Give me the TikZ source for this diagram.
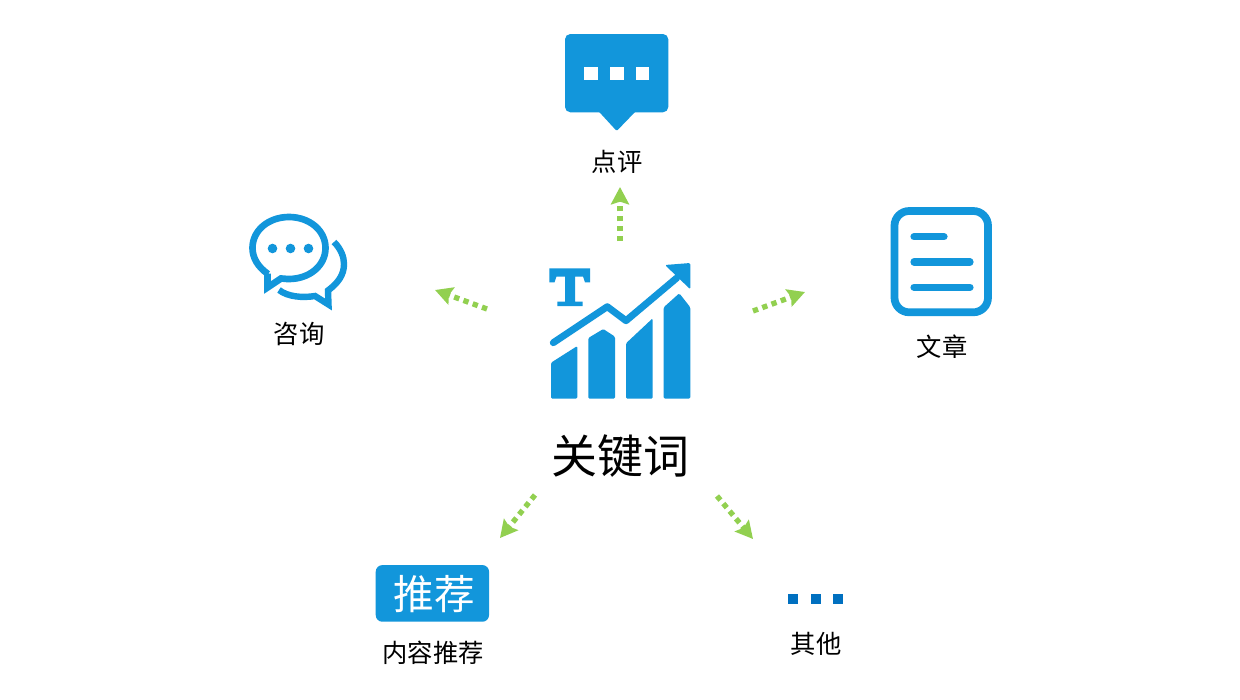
\documentclass[tikz,border=0pt]{standalone}
\usepackage{fontspec}
\setmainfont{Noto Sans CJK SC}
\usetikzlibrary{arrows.meta}
\definecolor{iconblue}{HTML}{1296DB}
\definecolor{dotblue}{HTML}{0070C0}
\definecolor{arrowgreen}{HTML}{92D050}
\tikzset{
  iconfill/.style={fill=iconblue,draw=none},
  iconline/.style={draw=iconblue,fill=none,line cap=round,line join=round},
  conn/.style={draw=arrowgreen,line width=4pt,dash pattern=on 4pt off 3.4pt,
    -{Stealth[inset=2pt,length=13pt,width=13.5pt,fill=arrowgreen]}},
  lab/.style={inner sep=0pt,font=\fontsize{19pt}{22pt}\selectfont,text=black},
}
\begin{document}
\begin{tikzpicture}[x=0.75pt,y=-0.75pt]
\useasboundingbox (0,0) rectangle (1240,700);
\fill[white] (0,0) rectangle (1240,700);

% centre icon: bars
\fill[iconfill,rounded corners=1pt] (551,362.7) -- (577.3,346) -- (577.3,398.7) -- (551,398.7) -- cycle;
\fill[iconfill,rounded corners=1pt] (588.3,338) -- (603.3,329) -- (615,336.7) -- (615,398.7) -- (588.3,398.7) -- cycle;
\fill[iconfill,rounded corners=1pt] (626,343.3) -- (652.7,318.3) -- (652.7,398.7) -- (626,398.7) -- cycle;
\fill[iconfill,rounded corners=1pt] (663.7,307.3) -- (679.3,293.3) -- (690.3,307.3) -- (690.3,398.7) -- (663.7,398.7) -- cycle;
% centre icon: trend line and head
\draw[iconline,line width=5.2pt] (553.3,342.7) -- (607.3,306.7) -- (626,320.7) -- (676.7,278);
\fill[iconfill,rounded corners=1pt] (665,265) -- (690.3,263) -- (690.3,289.3) -- cycle;
% centre icon: serif T
\fill[iconfill] (549.3,268.3) -- (590,268.3) -- (590,282.3) -- (585,282.3) -- (583,276.5) -- (575,276.5)
  -- (575,301.7) -- (582.7,301.7) -- (582.7,306) -- (557.3,306) -- (557.3,301.7) -- (565,301.7)
  -- (565,276.5) -- (556.5,276.5) -- (554.5,282.3) -- (549.3,282.3) -- cycle;

% speech box
\fill[iconfill,rounded corners=4pt] (565,34) -- (668.3,34) -- (668.3,112.3) -- (565,112.3) -- cycle;
\fill[iconfill,rounded corners=1pt] (598.3,111) -- (616.7,131) -- (636,111) -- cycle;
\fill[white] (584.3,67.3) rectangle (597.7,80);
\fill[white] (610.3,67.3) rectangle (623.7,80);
\fill[white] (636,67.3) rectangle (649.3,80);

% chat bubbles
\draw[iconline,line width=5pt,line cap=butt,miter limit=10,line join=miter]
  (268,274) .. controls (258,267) and (252.5,258) .. (252.5,248)
  .. controls (252.5,230) and (269,217) .. (289,217)
  .. controls (309,217) and (325.5,230) .. (325.5,248)
  .. controls (325.5,266) and (309,279) .. (289,279)
  .. controls (285,279) and (284,278.5) .. (281,278.5)
  -- (267.5,287.5) -- (267.5,273.5);
\fill[iconfill] (272.5,248.5) circle (4.8);
\fill[iconfill] (290.5,248.5) circle (4.8);
\fill[iconfill] (308.5,248.5) circle (4.8);
\draw[iconline,line width=4.8pt,line cap=butt,line join=miter,miter limit=10]
  (334,242) .. controls (341,249) and (344,257) .. (344,264)
  .. controls (344,275) and (338,283) .. (328,290.5)
  -- (328.5,304.5) -- (315,296)
  .. controls (303,298) and (288,297) .. (279,290);

% document
\draw[draw=iconblue,line width=5.8pt,rounded corners=11pt] (894.5,211) rectangle (988,312.3);
\draw[iconline,line width=5.4pt] (914,236.7) -- (944,236.7);
\draw[iconline,line width=5.4pt] (914,262) -- (970,262);
\draw[iconline,line width=5.4pt] (914,287.3) -- (970,287.3);

% recommend badge
\node[fill=iconblue,rounded corners=5pt,minimum width=85pt,minimum height=42.5pt,inner sep=0pt] (tui) at (432.4,593.4) {};
\node[text=white,inner sep=0pt,font=\fontsize{30.5pt}{34pt}\selectfont] (tuitext) at (434.5,594) {推荐};

% three dots
\fill[dotblue] (788.3,594) rectangle (798.3,604);
\fill[dotblue] (811,594) rectangle (820.6,604);
\fill[dotblue] (833.3,594) rectangle (842.9,604);

% labels
\node[inner sep=0pt,font=\fontsize{34.5pt}{38pt}\selectfont,text=black] (key) at (620,456) {关键词};
\node[lab] (dp) at (617,162) {点评};
\node[lab] (zx) at (299,334) {咨询};
\node[lab] (wz) at (942,347) {文章};
\node[lab] (nr) at (433,653) {内容推荐};
\node[lab] (qt) at (816,644) {其他};

% connectors
\coordinate (s1) at (620,241); \coordinate (t1) at (620,187);
\coordinate (s2) at (487,309); \coordinate (t2) at (435,290);
\coordinate (s3) at (753,311); \coordinate (t3) at (805,292);
\coordinate (s4) at (535,495); \coordinate (t4) at (500,538);
\coordinate (s5) at (717,496); \coordinate (t5) at (753,539);
\draw[conn] (s1) -- (t1);
\draw[conn] (s2) -- (t2);
\draw[conn] (s3) -- (t3);
\draw[conn] (s4) -- (t4);
\draw[conn] (s5) -- (t5);
\end{tikzpicture}
\end{document}
